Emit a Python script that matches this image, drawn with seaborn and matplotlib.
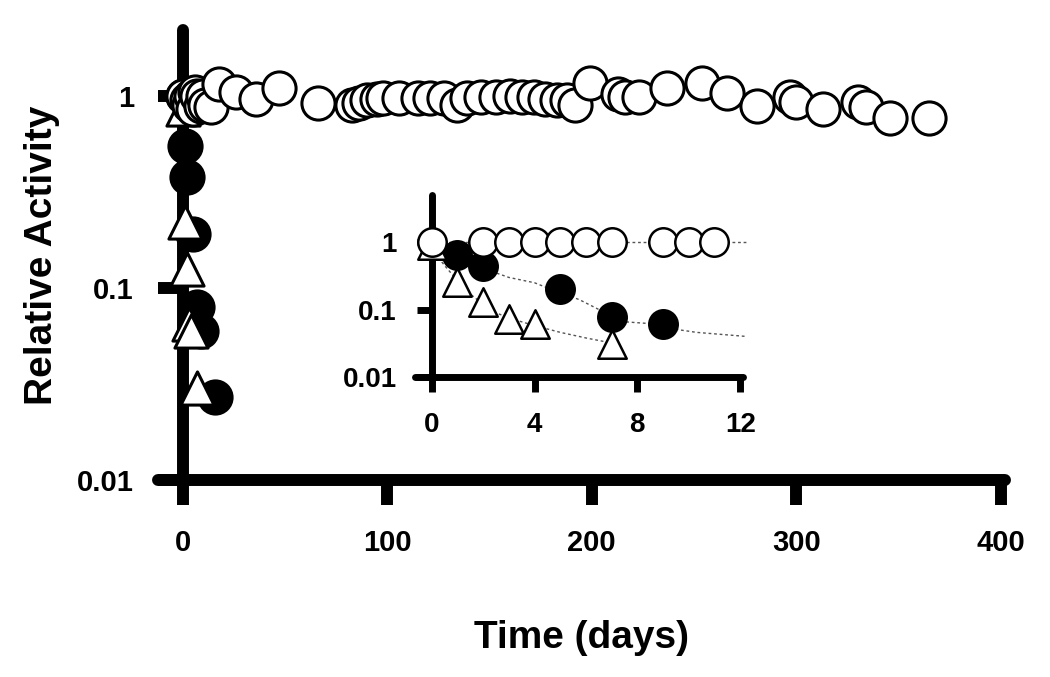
import matplotlib
matplotlib.use("Agg")
from matplotlib import pyplot as plt
import seaborn as sns

sns.set_style("ticks")
plt.rcParams["font.family"] = ["Liberation Sans", "DejaVu Sans"]
plt.rcParams["font.weight"] = "bold"
plt.rcParams["axes.labelweight"] = "bold"
plt.rcParams["axes.edgecolor"] = "black"
plt.rcParams["axes.labelcolor"] = "black"
plt.rcParams["text.color"] = "black"
plt.rcParams["xtick.color"] = "black"
plt.rcParams["ytick.color"] = "black"

# main panel: days vs relative activity
open_days = [0, 2, 3, 4, 5, 6, 7, 9, 10, 11, 14, 18, 26, 36, 47, 66, 83, 86, 90, 95,
             98, 106, 115, 121, 128, 134, 139, 146, 153, 160, 166, 172, 177, 183, 188,
             192, 199, 213, 216, 223, 237, 254, 266, 281, 297, 300, 313, 330, 334, 346, 365]
open_vals = [1.0, 0.95, 0.9, 1.0, 0.85, 1.05, 1.0, 0.88, 1.0, 0.9, 0.87, 1.15, 1.05, 0.96, 1.1, 0.92, 0.9, 0.92, 0.95, 0.96,
             0.97, 0.97, 0.97, 0.97, 0.97, 0.9, 0.97, 0.98, 0.98, 1.0, 0.98, 0.98, 0.96, 0.95, 0.95,
             0.9, 1.16, 1.02, 0.99, 0.98, 1.1, 1.16, 1.04, 0.88, 0.98, 0.93, 0.85, 0.93, 0.87, 0.77, 0.77]
filled_days = [0, 1, 2, 5, 7, 9, 16]
filled_vals = [1.0, 0.55, 0.38, 0.19, 0.08, 0.06, 0.027]
tri_days = [0, 1, 2, 3, 4, 7]
tri_vals = [0.85, 0.22, 0.125, 0.065, 0.06, 0.03]

# inset: first 12 days
in_open_days = [0, 2, 3, 4, 5, 6, 7, 9, 10, 11]
in_open_vals = [1.0, 1.0, 1.0, 1.0, 1.0, 1.0, 1.0, 1.0, 1.0, 1.0]
in_filled_days = [1, 2, 5, 7, 9]
in_filled_vals = [0.64, 0.44, 0.2, 0.077, 0.061]
in_tri_days = [0, 1, 2, 3, 4, 7]
in_tri_vals = [0.9, 0.255, 0.13, 0.072, 0.062, 0.031]

# dotted fit curves
fit_open_days = [0, 12.3]
fit_open_vals = [1.0, 1.0]
fit_filled_days = [0, 0.5, 1, 1.5, 2, 2.5, 3, 4, 4.5, 5, 5.75, 6.4, 7, 7.5, 8.5, 9.5, 10.3, 12.25]
fit_filled_vals = [1.0, 0.8, 0.64, 0.5, 0.41, 0.35, 0.3, 0.25, 0.21, 0.18, 0.14, 0.105, 0.08, 0.066, 0.062, 0.051, 0.046, 0.04]
fit_tri_days = [0, 0.5, 1, 1.5, 2, 2.5, 3, 4, 5, 6, 7]
fit_tri_vals = [0.8, 0.45, 0.27, 0.17, 0.12, 0.09, 0.075, 0.058, 0.046, 0.038, 0.032]

fig = plt.figure(figsize=(10.5, 6.77), dpi=100)
ax = fig.add_axes([0.1505, 0.291, 0.8067, 0.6647])
axin = fig.add_axes([0.395, 0.443, 0.3124, 0.269])


def markers(a, x, y, mk, face, size, lw, z):
  sns.scatterplot(x=x, y=y, ax=a, marker=mk, s=size, color=face,
                  edgecolor="black", linewidth=lw, zorder=z, clip_on=False, legend=False)


markers(ax, filled_days, filled_vals, "o", "black", 570, 2.2, 3)
markers(ax, tri_days, tri_vals, "^", "white", 570, 2.2, 4)
markers(ax, open_days, open_vals, "o", "white", 570, 2.2, 5)

for a, xl, yl, slw, tlen, fs, pd_ in [(ax, (-12, 402), (0.01, 2.2), 8.6, 18, 21, 17),
                                      (axin, (-0.66, 12.1), (0.01, 5), 5, 11, 20, 14)]:
  a.set_yscale("log")
  a.set_xlim(xl)
  a.set_ylim(yl)
  a.spines["left"].set_position(("data", 0))
  a.spines["top"].set_visible(False)
  a.spines["right"].set_visible(False)
  for s in ["left", "bottom"]:
    a.spines[s].set_linewidth(slw)
    a.spines[s].set_capstyle("round")
  a.minorticks_off()
  a.set_yticks([0.01, 0.1, 1], ["0.01", "0.1", "1"])
  a.tick_params(direction="out", length=tlen, width=slw, labelsize=fs, pad=pd_)
  a.patch.set_alpha(0)

ax.set_xticks([0, 100, 200, 300, 400])
ax.set_xlabel("Time (days)", fontsize=28, labelpad=46)
ax.set_ylabel("Relative Activity", fontsize=28, labelpad=12)

sns.lineplot(x=fit_open_days, y=fit_open_vals, ax=axin, color="#555555", lw=1,
             linestyle=(0, (2, 2)), zorder=2, clip_on=False)
sns.lineplot(x=fit_filled_days, y=fit_filled_vals, ax=axin, color="#555555", lw=1,
             linestyle=(0, (2, 2)), zorder=2, clip_on=False)
sns.lineplot(x=fit_tri_days, y=fit_tri_vals, ax=axin, color="#555555", lw=1,
             linestyle=(0, (2, 2)), zorder=2, clip_on=False)
markers(axin, in_filled_days, in_filled_vals, "o", "black", 420, 1.8, 3)
markers(axin, in_tri_days, in_tri_vals, "^", "white", 420, 1.8, 4)
markers(axin, in_open_days, in_open_vals, "o", "white", 420, 1.8, 5)
axin.set_xticks([0, 4, 8, 12])
axin.set_xlabel("")
axin.set_ylabel("")

fig.savefig("out.png", dpi=100)
